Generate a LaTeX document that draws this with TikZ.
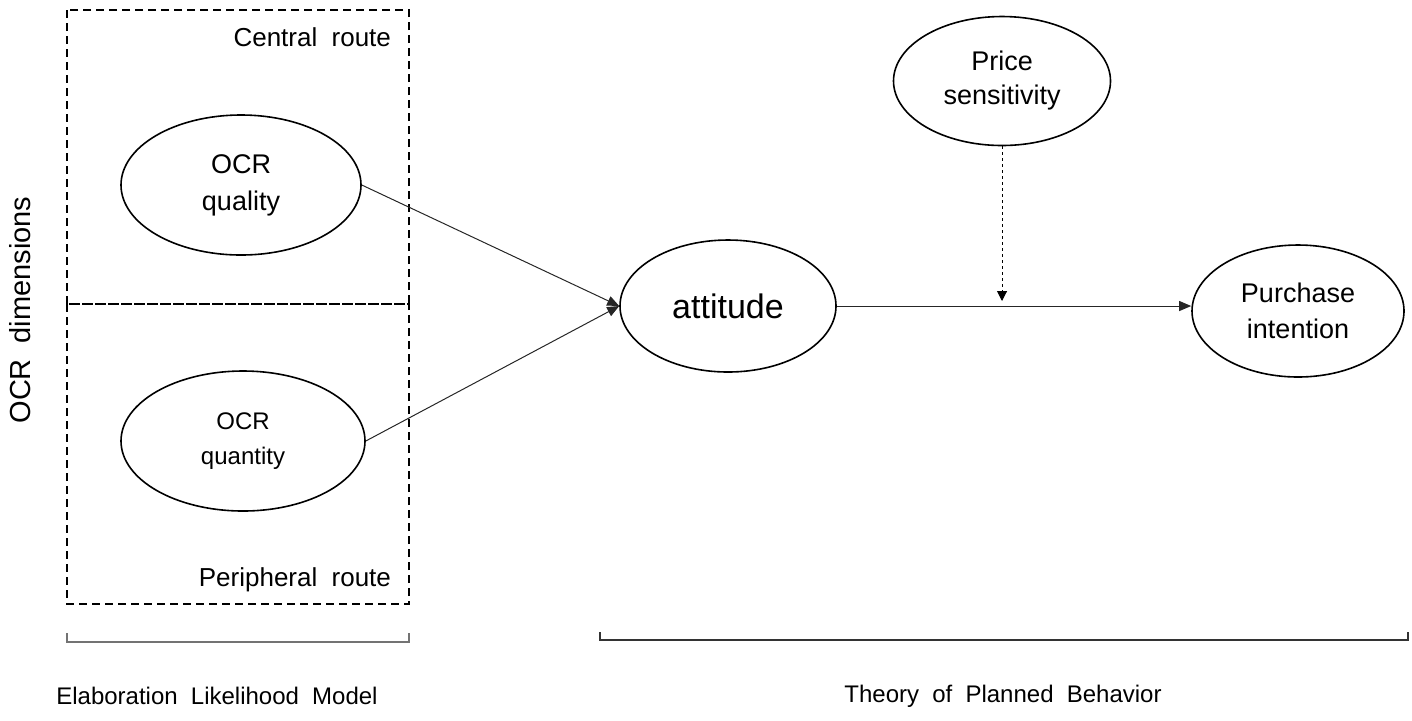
\documentclass[tikz,border=0pt]{standalone}
\usepackage{fontspec}
\setmainfont{Liberation Sans}
\usetikzlibrary{shapes.geometric,arrows.meta}

\newcommand{\widesp}{\spaceskip 0.55em\relax}

\tikzset{
  var/.style={draw, ellipse, line width=.8pt, inner sep=0pt, align=center,
    font=\fontsize{13.5}{18.5}\selectfont},
  txt/.style={font=\fontsize{13}{15.5}\selectfont\widesp},
  routebox/.style={dash pattern=on 4pt off 2.5pt, line width=.8pt},
  path/.style={-{Triangle[length=6pt,width=5pt]}, line width=.5pt, draw=black!85},
  modpath/.style={-{Triangle[length=5pt,width=5pt]}, line width=.5pt,
    dash pattern=on 1.5pt off 1.5pt},
  brace/.style={line width=.7pt}
}

\begin{document}
\begin{tikzpicture}[x=0.5pt,y=-0.5pt]
\useasboundingbox (0,0) rectangle (1412,720);

\draw[routebox] (67,10) rectangle (409,304);
\draw[routebox] (67,304) rectangle (409,604);

\node[txt,anchor=east] (central) at (398,37) {Central route};
\node[txt,anchor=east] (periph) at (398,580) {Peripheral route};

\node[var,minimum width=120pt,minimum height=70pt] (qual) at (241,185) {OCR\\quality};
\node[var,minimum width=122pt,minimum height=70pt,font=\fontsize{12}{17.5}\selectfont] (quan) at (243,441) {OCR\\quantity};
\node[var,minimum width=108pt,minimum height=66pt,font=\fontsize{17}{20}\selectfont] (att) at (728,306) {attitude};
\node[var,minimum width=108.5pt,minimum height=64.5pt,font=\fontsize{13.5}{17}\selectfont] (price) at (1002,81) {Price\\sensitivity};
\node[var,minimum width=106pt,minimum height=66pt,font=\fontsize{13.5}{18}\selectfont] (pi) at (1298,311) {Purchase\\intention};

\node[rotate=90,font=\fontsize{14.5}{16}\selectfont\widesp] (dims) at (20,310) {OCR dimensions};

% paths
\draw[path] (qual.east) -- (att.west);
\draw[path] (quan.east) -- (att.west);
\draw[path] (att.east) -- (att.east -| pi.west);
\coordinate (mod) at (price.south |- att.east);
\draw[modpath,shorten >=2.5pt] (price.south) -- (mod);

% theory brackets
\draw[brace,draw=black!55] (67,633) -- (67,642) -- (409,642) -- (409,633);
\draw[brace,draw=black!80] (600,632) -- (600,640) -- (1408,640) -- (1408,632);

\node[font=\fontsize{12}{14}\selectfont\widesp] (elm) at (217,696) {Elaboration Likelihood Model};
\node[font=\fontsize{12}{14}\selectfont\widesp] (tpb) at (1003,696) {Theory of Planned Behavior};

\end{tikzpicture}
\end{document}
